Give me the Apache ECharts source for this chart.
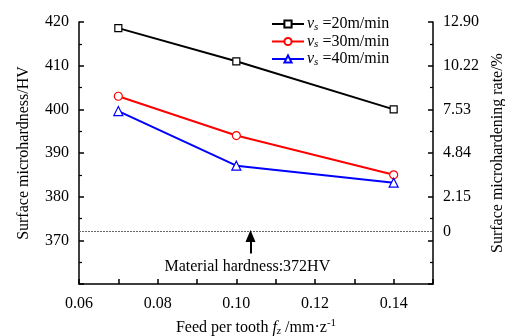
<!DOCTYPE html>
<html>
<head>
<meta charset="utf-8">
<script src="https://cdn.jsdelivr.net/npm/echarts@6/dist/echarts.min.js"></script>
<style>html,body{margin:0;padding:0;background:#fff}#main{width:505px;height:336px}</style>
</head>
<body>
<div id="main"></div>
<script>
var feed = [0.07, 0.10, 0.14];
var hv20 = [418.6, 411.0, 400.0];
var hv30 = [403.0, 394.0, 385.0];
var hv40 = [399.6, 387.1, 383.2];
var xLabels = [0.06, 0.08, 0.10, 0.12, 0.14];
var rateTicks = [372, 380, 390, 400, 410, 420];
var rateLabels = ['0', '2.15', '4.84', '7.53', '10.22', '12.90'];
var baseHV = 372;

var dom = document.getElementById('main');
var myChart = echarts.init(dom);
var serif = 'Liberation Serif';

function pairs(ys) {
    return feed.map(function (x, i) { return [x, ys[i]]; });
}
var legRich = {
    v: { fontFamily: serif, fontStyle: 'italic', fontSize: 16, color: '#000' },
    s: { fontFamily: serif, fontStyle: 'italic', fontSize: 11, color: '#000', padding: [6, 0, 0, 0] },
    t: { fontFamily: serif, fontSize: 16, color: '#000' }
};
var axisCommon = {
    axisLine: { show: true, lineStyle: { color: '#000', width: 1.5 } },
    axisTick: { show: true, inside: true, length: 5, lineStyle: { color: '#000', width: 1.5 } },
    minorTick: { show: true, splitNumber: 2, length: 3, lineStyle: { color: '#000', width: 1.2 } },
    splitLine: { show: false },
    nameTextStyle: { fontFamily: serif, fontSize: 16, color: '#000' }
};

var option = {
    backgroundColor: '#fff',
    animation: false,
    grid: { left: 79, right: 72, top: 22, bottom: 52, outerBoundsMode: 'none', containLabel: false },
    legend: {
        orient: 'vertical',
        left: 266,
        top: 11,
        itemGap: 1,
        itemWidth: 32,
        itemHeight: 9,
        data: ['20', '30', '40'],
        formatter: function (n) { return '{v|v}{s|s}{t| =' + n + 'm/min}'; },
        textStyle: { rich: legRich, padding: [0, 0, 0, -2] }
    },
    xAxis: Object.assign({}, axisCommon, {
        type: 'value',
        min: 0.06,
        max: 0.15,
        interval: 0.01,
        minorTick: { show: false },
        axisLabel: {
            customValues: xLabels,
            formatter: function (v) { return v.toFixed(2); },
            fontFamily: serif, fontSize: 16, color: '#000', margin: 12
        },
        name: '{t|Feed per tooth }{i|f}{sub|z}{t| /mm·z}{sup|-1}',
        nameLocation: 'middle',
        nameGap: 34,
        nameTextStyle: {
            rich: {
                t: { fontFamily: serif, fontSize: 16, color: '#000' },
                i: { fontFamily: serif, fontStyle: 'italic', fontSize: 16, color: '#000' },
                sub: { fontFamily: serif, fontStyle: 'italic', fontSize: 11, color: '#000', padding: [7, 0, 0, 0] },
                sup: { fontFamily: serif, fontSize: 11, color: '#000', padding: [0, 0, 8, 0] }
            }
        }
    }),
    yAxis: [
        Object.assign({}, axisCommon, {
            type: 'value',
            min: 360,
            max: 420,
            interval: 10,
            axisLabel: {
                formatter: function (v) { return v === 360 ? '' : String(v); },
                fontFamily: serif, fontSize: 16, color: '#000', margin: 10
            },
            name: 'Surface microhardness/HV',
            nameLocation: 'middle',
            nameRotate: 90,
            nameGap: 47
        }),
        Object.assign({}, axisCommon, {
            type: 'value',
            position: 'right',
            min: 360,
            max: 420,
            interval: 10,
            axisLabel: {
                customValues: rateTicks,
                formatter: function (v) { return rateLabels[rateTicks.indexOf(v)]; },
                fontFamily: serif, fontSize: 16, color: '#000', margin: 10
            },
            name: 'Surface microhardening rate/%',
            nameLocation: 'middle',
            nameRotate: 90,
            nameGap: 52
        })
    ],
    series: [
        {
            name: '20', type: 'line', data: pairs(hv20),
            symbol: 'rect', symbolSize: 7,
            lineStyle: { color: '#000', width: 2 },
            itemStyle: { color: '#fff', borderColor: '#000', borderWidth: 1.2 },
            markLine: {
                silent: true,
                symbol: ['none', 'none'],
                label: { show: false },
                lineStyle: { color: '#666', type: [2, 1], width: 1 },
                data: [{ yAxis: baseHV }]
            }
        },
        {
            name: '30', type: 'line', data: pairs(hv30),
            symbol: 'circle', symbolSize: 8,
            lineStyle: { color: '#ff0000', width: 2 },
            itemStyle: { color: '#fff', borderColor: '#ff0000', borderWidth: 1.2 }
        },
        {
            name: '40', type: 'line', data: pairs(hv40),
            symbol: 'triangle', symbolSize: 9,
            lineStyle: { color: '#0000ff', width: 2 },
            itemStyle: { color: '#fff', borderColor: '#0000ff', borderWidth: 1.2 },
            markLine: {
                silent: true,
                symbol: ['none', 'triangle'],
                symbolSize: [10, 12],
                label: { show: false },
                lineStyle: { color: '#000', type: 'solid', width: 2 },
                data: [[{ coord: [0.1036, 367.0] }, { coord: [0.1036, 371.0] }]]
            },
            markPoint: {
                silent: true,
                symbol: 'circle',
                symbolSize: 0,
                label: {
                    show: true,
                    formatter: 'Material hardness:372HV',
                    fontFamily: serif, fontSize: 16, color: '#000'
                },
                data: [{ coord: [0.1028, 364.0] }]
            }
        }
    ]
};
if (option && typeof option === 'object') {
    myChart.setOption(option, true);
}
</script>
</body>
</html>
